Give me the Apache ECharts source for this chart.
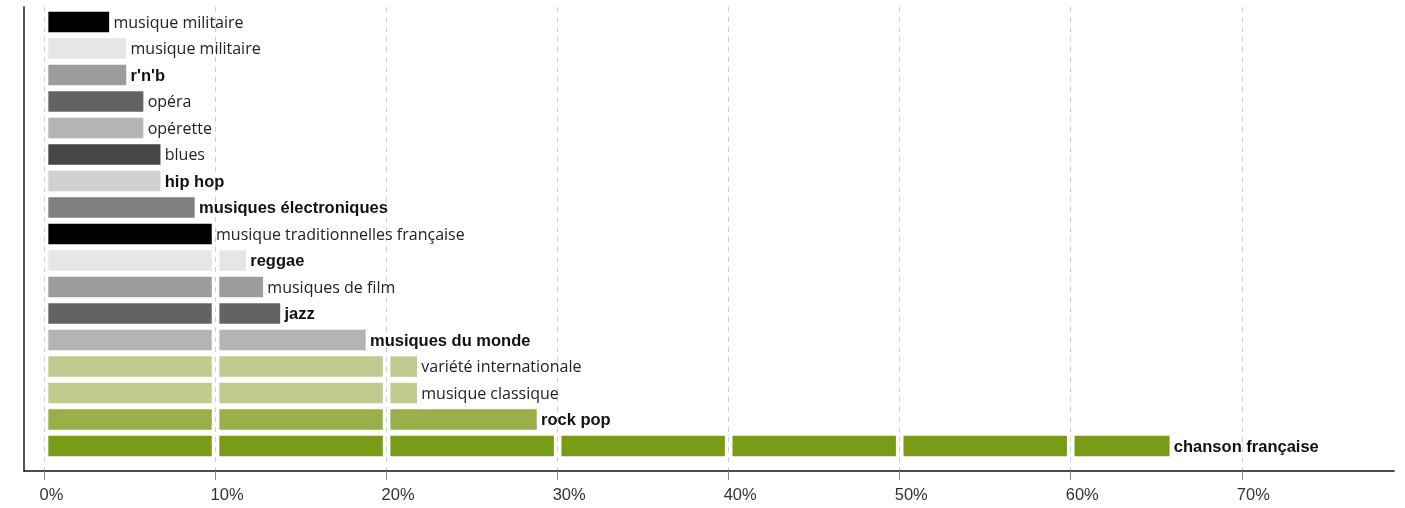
<!DOCTYPE html>
<html>
<head>
<meta charset="utf-8">
<script src="https://cdn.jsdelivr.net/npm/echarts@6/dist/echarts.min.js"></script>
<style>
  html, body { margin: 0; padding: 0; background: #fff; }
  #chart { width: 1405px; height: 508px; }
</style>
</head>
<body>
<div id="chart"></div>
<script>
// genres, top to bottom
const categories = [
  'musique militaire', 'musique militaire', "r'n'b", 'opéra', 'opérette',
  'blues', 'hip hop', 'musiques électroniques', 'musique traditionnelles française',
  'reggae', 'musiques de film', 'jazz', 'musiques du monde',
  'variété internationale', 'musique classique', 'rock pop', 'chanson française'
]
// part des répondants (%)
const values = [4, 5, 5, 6, 6, 7, 7, 9, 10, 12, 13, 14, 19, 22, 22, 29, 66]
const tickValues = [0, 10, 20, 30, 40, 50, 60, 70]

// styles per row
const barColors = [
  '#000000', '#e6e6e7', '#9c9c9c', '#636364', '#b4b4b5',
  '#464647', '#d0d0d1', '#808080', '#000000',
  '#e6e6e7', '#9c9c9c', '#636364', '#b4b4b5',
  '#bfcb8f', '#bfcb8f', '#99af4a', '#7a9b15'
]
const boldRows = [2, 6, 7, 9, 11, 12, 15, 16]

const SEG = 10      // bars are cut every 10%
const INSET = 3.8   // white gap on each side of a segment
const BAR_H = 20.5
const REGULAR_FONT = '16px "Open Sans", sans-serif'
const BOLD_FONT = 'bold 16.5px "Liberation Sans", Arial, sans-serif'

const chart = echarts.init(document.getElementById('chart'))

const renderBar = (params, api) => {
  const v = api.value(0)
  const i = api.value(1)
  const children = []
  for (let s = 0; s < v; s += SEG) {
    const e = Math.min(s + SEG, v)
    const p0 = api.coord([s, i])
    const p1 = api.coord([e, i])
    children.push({
      type: 'rect',
      shape: {
        x: p0[0] + INSET,
        y: p0[1] - BAR_H / 2,
        width: p1[0] - p0[0] - 2 * INSET,
        height: BAR_H
      },
      style: { fill: barColors[i] }
    })
  }
  const end = api.coord([v, i])
  const bold = boldRows.includes(i)
  children.push({
    type: 'text',
    x: end[0] + 0.5,
    y: end[1] + 1,
    style: {
      text: categories[i],
      fill: bold ? '#111' : '#222',
      font: bold ? BOLD_FONT : REGULAR_FONT,
      align: 'left',
      verticalAlign: 'middle'
    }
  })
  return { type: 'group', children: children }
}

const option = {
  animation: false,
  grid: { left: 24, right: 11, top: 7, bottom: 37 },
  xAxis: {
    type: 'value',
    min: -1.2,
    max: 78.9,
    axisLine: { show: true, onZero: false, lineStyle: { color: '#111', width: 1.5 } },
    axisTick: {
      show: true,
      customValues: tickValues,
      length: 9,
      lineStyle: { color: '#888', width: 1 }
    },
    axisLabel: {
      customValues: tickValues,
      formatter: '{value}%',
      align: 'left',
      padding: [0, 0, 0, -5],
      margin: 16,
      color: '#333',
      fontSize: 16.5,
      fontFamily: '"Liberation Sans", Arial, sans-serif'
    },
    splitLine: {
      show: true,
      lineStyle: { color: '#cfcfcf', type: [5, 5], width: 1 }
    }
  },
  yAxis: {
    type: 'value',
    inverse: true,
    min: -0.57,
    max: 16.94,
    axisLine: { show: true, onZero: false, lineStyle: { color: '#555', width: 2 } },
    axisTick: { show: false },
    axisLabel: { show: false },
    splitLine: { show: false }
  },
  series: [
    {
      type: 'custom',
      renderItem: renderBar,
      data: values.map((v, i) => [v, i]),
      encode: { x: 0, y: 1 }
    }
  ]
}

chart.setOption(option)
</script>
</body>
</html>
